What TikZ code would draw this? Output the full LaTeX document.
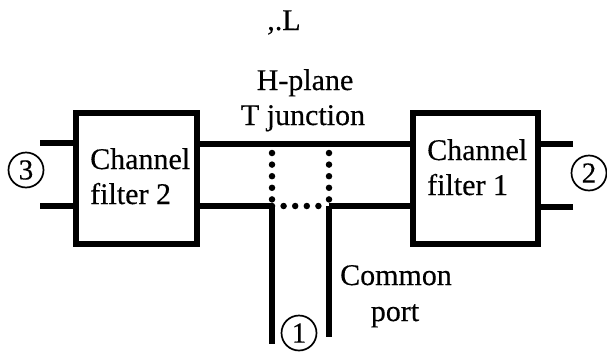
\documentclass[tikz,border=0pt]{standalone}
\usepackage{fontspec}
\setmainfont[FakeBold=0.35]{Liberation Serif}
\begin{document}
\begin{tikzpicture}[x=1pt,y=-1pt,
  filterbox/.style={draw=black,line width=6.5pt,minimum width=121pt,minimum height=131pt,inner sep=0pt,outer sep=0pt},
  wire/.style={line width=6pt,draw=black},
  thinwire/.style={line width=5.5pt,draw=black},
  junctionline/.style={line width=6.5pt,draw=black,line cap=round,dash pattern=on 0pt off 11.6pt},
  portmark/.style={circle,draw=black,line width=1.7pt,minimum size=35pt,inner sep=0pt,font=\fontsize{29}{29}\selectfont},
  label/.style={font=\fontsize{30}{30}\selectfont,inner sep=0pt,text=black}]
\useasboundingbox (0,0) rectangle (607,359);
\node[filterbox] (f2) at (136.5,178.5) {};
\node[filterbox,minimum width=125pt] (f1) at (475.5,178.5) {};
\coordinate (l3a) at (40,143);
\coordinate (l3b) at (40,206);
\coordinate (l3ae) at (f2.west |- l3a);
\coordinate (l3be) at (f2.west |- l3b);
\coordinate (r2a) at (573,144);
\coordinate (r2b) at (573,207);
\coordinate (r2ae) at (f1.east |- r2a);
\coordinate (r2be) at (f1.east |- r2b);
\coordinate (ta) at (f2.east |- 0,144);
\coordinate (tb) at (f1.west |- 0,144);
\coordinate (ma) at (f2.east |- 0,206);
\coordinate (mb) at (f1.west |- 0,206);
\coordinate (j1) at (272,206);
\coordinate (j2) at (329,206);
\coordinate (e1) at (272,344);
\coordinate (e2) at (329,337);
\coordinate (d1) at (272,153);
\coordinate (d2) at (329,153);
\draw[wire] (l3a) -- (l3ae);
\draw[wire] (l3b) -- (l3be);
\draw[wire] (r2a) -- (r2ae);
\draw[wire] (r2b) -- (r2be);
\draw[wire] (ta) -- (tb);
\draw[wire] (ma) -- (j1);
\draw[wire] (j2) -- (mb);
\draw[thinwire] (j1) -- (e1);
\draw[thinwire] (j2) -- (e2);
\draw[junctionline] (d1) -- (j1);
\draw[junctionline] (d2) -- (j2);
\draw[junctionline] (j1) -- (j2);
\node[portmark] (p3) at (26,170) {3};
\node[portmark] (p2) at (589,173) {2};
\node[portmark] (p1) at (299,333) {1};
\node[label,anchor=base west] (c2a) at (90,169) {Channel};
\node[label,anchor=base west] (c2b) at (90,204) {filter 2};
\node[label,anchor=base west] (c1a) at (427,160) {Channel};
\node[label,anchor=base west] (c1b) at (427,195) {filter 1};
\node[label,anchor=base] (h1) at (305,90) {H-plane};
\node[label,anchor=base] (h2) at (303,125) {T junction};
\node[label,anchor=base] (cp1) at (396,285) {Common};
\node[label,anchor=base] (cp2) at (395,321) {port};
\node[label,anchor=base] (top) at (284,30) {,.L};
\end{tikzpicture}
\end{document}
